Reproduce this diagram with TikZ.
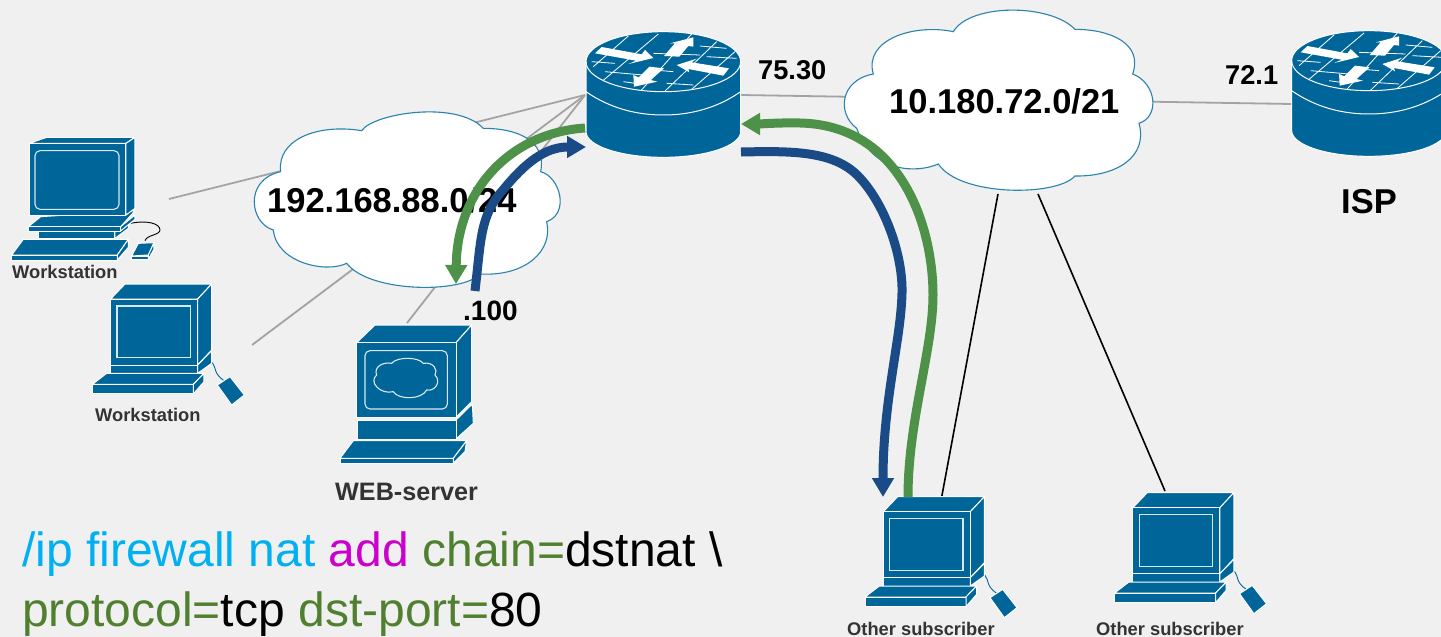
\documentclass[tikz,border=0pt]{standalone}
\usepackage{fontspec}
\setmainfont{Liberation Sans}
\usetikzlibrary{arrows.meta}
\definecolor{bgc}{HTML}{F0F0F0}
\definecolor{dev}{HTML}{006699}
\definecolor{cloudline}{HTML}{2A82AE}
\definecolor{wire}{HTML}{A3A3A3}
\definecolor{flowb}{HTML}{1A4B87}
\definecolor{flowg}{HTML}{4E9148}
\definecolor{cmdc}{HTML}{00B0F0}
\definecolor{cmdm}{HTML}{CC00CC}
\definecolor{cmdg}{HTML}{4F7F2F}
\definecolor{lab}{HTML}{333333}
\tikzset{
  devf/.style={fill=dev,draw=white,line width=1pt,line join=round},
  devl/.style={draw=white,line width=1.1pt,opacity=.85},
  zoomu/.style={x=0.33333pt,y=-0.33333pt},
  cloudshape/.style={fill=white,draw=cloudline,line width=1.1pt},
  wirel/.style={draw=wire,line width=1.8pt},
  blackl/.style={draw=black,line width=1.6pt},
  flowline/.style={line width=9pt,-{Triangle[width=21pt,length=19pt]}},
  netlab/.style={anchor=base west,inner sep=0pt,font=\bfseries\fontsize{34.5}{36}\selectfont},
  addrlab/.style={anchor=base west,inner sep=0pt,font=\bfseries\fontsize{27.2}{30}\selectfont},
  devlab/.style={anchor=base west,inner sep=0pt,text=lab,font=\bfseries\fontsize{18.3}{20}\selectfont},
  cmdlab/.style={anchor=base west,inner sep=0pt,font=\fontsize{48}{50}\selectfont},
  router/.pic={
    \begin{scope}[zoomu]
      \path[devf] (78,125) -- (78,335) .. controls (78,377.5) and (182,412) .. (310,412) .. controls (438,412) and (542,377.5) .. (542,335) -- (542,125) .. controls (542,75) and (438,35) .. (310,35) .. controls (182,35) and (78,75) .. (78,125) -- cycle;
      \draw[draw=white,line width=1pt] (78,215) .. controls (150,265) and (230,285) .. (310,285) .. controls (390,285) and (470,265) .. (542,215);
      \begin{scope}
        \clip (78,125) .. controls (78,175) and (182,215) .. (310,215) .. controls (438,215) and (542,175) .. (542,125) .. controls (542,75) and (438,35) .. (310,35) .. controls (182,35) and (78,75) .. (78,125) -- cycle;
        \draw[white,line width=0.8pt]
          (205,48) -- (100,140) (295,42) -- (125,185) (395,42) -- (240,215) (470,65) -- (310,218) (525,95) -- (395,208)
          (95,125) -- (165,130) (135,155) -- (250,165) (190,185) -- (225,190) (280,100) -- (420,105) (420,78) -- (500,85) (440,110) -- (530,115) (320,190) -- (400,195) (280,150) -- (340,155);
      \end{scope}
      \draw[white,line width=1pt] (78,125) .. controls (78,175) and (182,215) .. (310,215) .. controls (438,215) and (542,175) .. (542,125);
      \fill[white] (105,100) -- (125,81) -- (245,103) -- (255,90) -- (280,114) -- (205,132) -- (228,122) -- cycle;
      \fill[white] (312,108) -- (345,70) -- (330,70) -- (400,52) -- (400,80) -- (385,78) -- (358,110) -- cycle;
      \fill[white] (350,135) -- (410,116) -- (395,127) -- (507,145) -- (490,167) -- (385,147) -- (388,157) -- cycle;
      \fill[white] (268,140) -- (312,145) -- (272,180) -- (292,185) -- (222,200) -- (220,165) -- (236,172) -- cycle;
    \end{scope}
  },
  mousepc/.pic={
    \begin{scope}[zoomu]
      \draw[dev,line width=0.9pt] (637,728) .. controls (650,745) and (640,760) .. (672,782);
      \path[devf] (652,795) -- (690,770) -- (733,825) -- (695,855) -- cycle;
      \path[devf] (332,537) -- (375,492) -- (635,492) -- (593,537) -- cycle;
      \path[devf] (593,537) -- (635,492) -- (635,690) -- (593,735) -- cycle;
      \path[devf] (332,537) rectangle (593,735);
      \draw[devl] (351,558) rectangle (571,713);
      \path[devf] (332,735) rectangle (593,760);
      \path[devf] (593,735) -- (635,692) -- (635,730) -- (593,760) -- cycle;
      \path[devf] (277,793) -- (320,760) -- (612,760) -- (580,793) -- cycle;
      \path[devf] (277,793) rectangle (580,822);
      \path[devf] (580,793) -- (612,760) -- (612,785) -- (580,822) -- cycle;
    \end{scope}
  },
  deskpc/.pic={
    \begin{scope}[zoomu]
      \draw[black,line width=0.9pt] (392,310) .. controls (440,300) and (480,310) .. (480,330) .. controls (480,345) and (440,345) .. (435,362);
      \path[devf] (115,333) rectangle (345,355);
      \path[devf] (345,333) -- (385,300) -- (385,325) -- (345,355) -- cycle;
      \path[devf] (85,320) -- (122,290) -- (405,272) -- (362,320) -- cycle;
      \path[devf] (85,320) rectangle (362,333);
      \path[devf] (362,320) -- (405,285) -- (405,298) -- (362,333) -- cycle;
      \path[devf] (88,70) -- (140,52) -- (405,52) -- (378,70) -- cycle;
      \path[devf] (378,70) -- (405,52) -- (405,265) -- (378,285) -- cycle;
      \path[devf] (88,70) rectangle (378,285);
      \draw[devl,rounded corners=5pt] (105,92) rectangle (357,268);
      \path[devf] (35,405) -- (70,358) -- (385,358) -- (352,405) -- cycle;
      \path[devf] (35,405) rectangle (352,420);
      \path[devf] (352,405) -- (385,358) -- (385,382) -- (352,420) -- cycle;
      \path[devf] (395,408) -- (415,370) -- (462,368) -- (445,405) -- cycle;
      \path[devf] (395,408) rectangle (445,418);
      \path[devf] (445,405) -- (462,368) -- (462,388) -- (445,418) -- cycle;
    \end{scope}
  },
  webpc/.pic={
    \begin{scope}[zoomu]
      \path[devf] (80,98) -- (135,45) -- (425,45) -- (378,98) -- cycle;
      \path[devf] (378,98) -- (425,45) -- (425,275) -- (378,322) -- cycle;
      \path[devf] (80,98) rectangle (378,322);
      \draw[devl,rounded corners=5pt] (105,122) rectangle (352,297);
      \draw[devl] (185,160) .. controls (200,140) and (265,140) .. (280,160) .. controls (310,155) and (325,180) .. (315,195) .. controls (335,215) and (315,245) .. (290,240) .. controls (275,270) and (205,270) .. (190,245) .. controls (150,255) and (115,215) .. (140,195) .. controls (130,170) and (160,155) .. (185,160) -- cycle;
      \path[devf] (378,330) -- (427,282) -- (430,340) -- (378,387) -- cycle;
      \path[devf] (82,332) rectangle (378,387);
      \path[devf] (30,445) -- (70,392) -- (410,392) -- (370,445) -- cycle;
      \path[devf] (30,445) rectangle (370,460);
      \path[devf] (370,445) -- (410,392) -- (405,425) -- (370,460) -- cycle;
    \end{scope}
  }
}
\begin{document}
\begin{tikzpicture}[x=1pt,y=-1pt]
\clip (0,0) rectangle (1441,637);
\fill[bgc] (0,0) rectangle (1441,637);
% attachment points
\coordinate (mainL) at (585,95);
\coordinate (mainR) at (741,95);
\coordinate (ispL) at (1292,104);
\coordinate (ws1p) at (169,199);
\coordinate (ws2p) at (252,345);
\coordinate (webp) at (407,323);
\coordinate (wanA) at (998,194);
\coordinate (wanB) at (1038,194);
\coordinate (sub1p) at (941.5,498);
\coordinate (sub2p) at (1165,491);
% wires
\draw[wirel] (ws1p) -- (mainL);
\draw[wirel] (ws2p) -- (mainL);
\draw[wirel] (webp) -- (mainL);
\draw[wirel] (mainR) -- (ispL);
\draw[blackl] (wanA) -- (sub1p);
\draw[blackl] (wanB) -- (sub2p);
% clouds
\begin{scope}[shift={(250,90)},zoomu]
\path[cloudshape] (335,122) .. controls (370,70) and (620,30) .. (700,115)
  .. controls (800,115) and (890,150) .. (872,245)
  .. controls (930,260) and (960,370) .. (890,395)
  .. controls (910,480) and (830,560) .. (690,552)
  .. controls (640,610) and (360,610) .. (290,520)
  .. controls (230,550) and (80,520) .. (70,420)
  .. controls (0,400) and (-20,270) .. (92,245)
  .. controls (80,150) and (200,100) .. (335,122) -- cycle;
\end{scope}
\begin{scope}[shift={(740,0)},zoomu]
\path[cloudshape] (640,95) .. controls (690,10) and (930,10) .. (1005,88)
  .. controls (1110,88) and (1210,130) .. (1178,222)
  .. controls (1250,250) and (1260,350) .. (1197,370)
  .. controls (1225,470) and (1130,530) .. (1005,528)
  .. controls (950,590) and (660,590) .. (595,492)
  .. controls (530,520) and (400,520) .. (350,385)
  .. controls (290,340) and (300,240) .. (400,222)
  .. controls (370,120) and (520,70) .. (640,95) -- cycle;
\end{scope}
% labels
\node[netlab] (net1) at (267,212) {192.168.88.0/24};
\node[netlab] (net2) at (889,113) {10.180.72.0/21};
\node[addrlab] (a1) at (758,79) {75.30};
\node[addrlab] (a2) at (1225,84) {72.1};
\node[anchor=base west,inner sep=0pt,font=\bfseries\fontsize{28}{30}\selectfont] (a3) at (463,320) {.100};
\node[netlab] (isp) at (1341,213) {ISP};
\node[devlab] (l1) at (12,278) {Workstation};
\node[devlab] (l2) at (95,421) {Workstation};
\node[anchor=base west,inner sep=0pt,text=lab,font=\bfseries\fontsize{25.2}{27}\selectfont] (l3) at (335,500) {WEB-server};
\node[devlab] (l4) at (847,635) {Other subscriber};
\node[devlab] (l5) at (1096,635) {Other subscriber};
\node[cmdlab] (c1) at (22,566) {\textcolor{cmdc}{/ip firewall nat} \textcolor{cmdm}{add} \textcolor{cmdg}{chain=}dstnat \textbackslash};
\node[cmdlab] (c2) at (22,626) {\textcolor{cmdg}{protocol=}tcp \textcolor{cmdg}{dst-port=}80};
% devices
\pic at (560,20) {router};
\pic at (1265.7,19) {router};
\pic at (0,120) {deskpc};
\pic at (0,120) {mousepc};
\pic at (330,310) {webpc};
\pic at (772.67,332.67) {mousepc};
\pic at (1022.2,328.7) {mousepc};
% flows
\coordinate (f1s) at (475,291);
\coordinate (f1e) at (586,147);
\coordinate (f2s) at (585,128);
\coordinate (f2e) at (456,284);
\coordinate (f3s) at (741,152);
\coordinate (f3e) at (883,497);
\coordinate (f4s) at (908,497);
\coordinate (f4e) at (741,124);
\draw[flowline,flowb] (f1s) .. controls (481,240) and (480,215) .. (503,190) .. controls (525,163) and (545,147) .. (f1e);
\draw[flowline,flowg] (f2s) .. controls (510,133) and (457,190) .. (f2e);
\draw[flowline,flowb] (f3s) .. controls (790,151) and (835,150) .. (860,178) .. controls (885,205) and (903,255) .. (902,293) .. controls (901,340) and (883,400) .. (f3e);
\draw[flowline,flowg] (f4s) .. controls (908,420) and (933,350) .. (933,295) .. controls (933,225) and (900,125) .. (800,123) .. controls (780,122.5) and (760,124) .. (f4e);
\end{tikzpicture}
\end{document}
